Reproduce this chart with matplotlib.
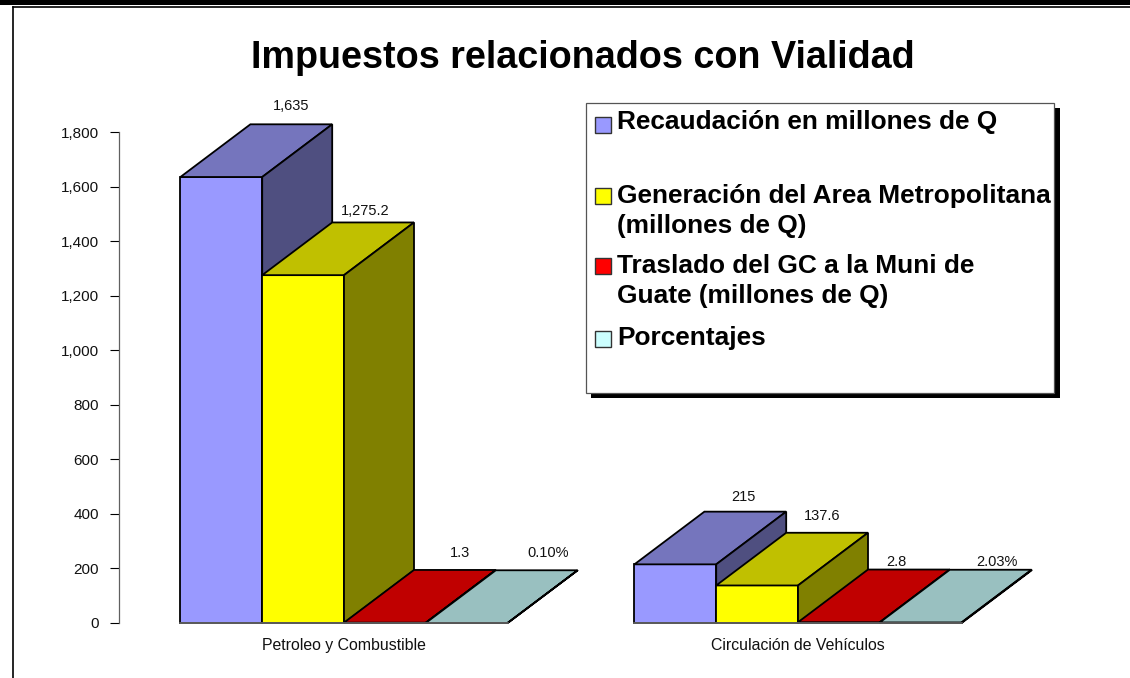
import matplotlib
matplotlib.use('Agg')
import matplotlib.pyplot as plt
from matplotlib.patches import Polygon, Rectangle

plt.rcParams['font.family'] = ['Liberation Sans', 'DejaVu Sans']

categories = ['Petroleo y Combustible', 'Circulación de Vehículos']
series_names = ['Recaudación en millones de Q',
                'Generación del Area Metropolitana\n(millones de Q)',
                'Traslado del GC a la Muni de\nGuate (millones de Q)',
                'Porcentajes']
recaudacion = [1635, 215]
generacion = [1275.2, 137.6]
traslado = [1.3, 2.8]
porcentajes = [0.10, 2.03]
value_labels = [['1,635', '215'], ['1,275.2', '137.6'], ['1.3', '2.8'], ['0.10%', '2.03%']]
y_ticks = [0, 200, 400, 600, 800, 1000, 1200, 1400, 1600, 1800]

front_colors = ['#9999FF', '#FFFF00', '#FF0000', '#CCFFFF']
top_colors = ['#7575BD', '#C0C000', '#C00000', '#99C0C0']
side_colors = ['#4F4F80', '#808000', '#800000', '#668080']

W, H = 1130, 678
fig = plt.figure(figsize=(W / 100, H / 100), dpi=100)

# overlay in pixel coords for the frame and the legend box
bg = fig.add_axes([0, 0, 1, 1])
bg.set_xlim(0, W)
bg.set_ylim(H, 0)
bg.axis('off')
bg.add_patch(Rectangle((0, 0), W, 4.5, fc='black', ec='none'))
bg.plot([12.5, W], [6.8, 6.8], color='black', lw=1.2)
bg.plot([12.5, 12.5], [6.8, H], color='black', lw=1.2)

ax_left, ax_right, ax_top, ax_bottom = 119, 1060, 132, 623
ax = fig.add_axes([ax_left / W, 1 - ax_bottom / H, (ax_right - ax_left) / W, (ax_bottom - ax_top) / H])
ax.patch.set_alpha(0)

# px per category step is 454, px per y unit is 491/1800
px_x = 454
px_y = 491 / 1800
ax.set_xlim((ax_left - 344) / px_x, (ax_right - 344) / px_x)
ax.set_ylim(0, 1800)
bar_w = 81.8 / px_x
depth_x = 70 / px_x
depth_y = 52.7 / px_y

for s in ['top', 'right', 'bottom']:
    ax.spines[s].set_visible(False)
ax.spines['left'].set_color('#606060')
ax.spines['left'].set_linewidth(0.9)
ax.set_yticks(y_ticks)
ax.set_yticklabels([f'{v:,}' for v in y_ticks], fontsize=11, color='#111111')
ax.tick_params(axis='y', length=6.5, width=0.8, pad=8, color='black')
ax.set_xticks(range(len(categories)))
ax.set_xticklabels(categories, fontsize=11.4, color='#111111')
ax.tick_params(axis='x', length=0, pad=11)

all_series = [recaudacion, generacion, traslado, porcentajes]
# nudges for value labels, px right and px above the back top edge
label_dx = [[0, -2], [-8, -5], [5, -13], [11, 6]]
label_dy = [[18, 15], [11, 17], [17, 8], [17, 8]]

for g in range(len(categories)):
    x0 = g - 2 * bar_w
    for i, vals in enumerate(all_series):
        v = vals[g]
        x = x0 + i * bar_w
        x1 = x + bar_w
        kw = dict(ec='black', lw=1.3, joinstyle='miter', clip_on=False)
        ax.add_patch(Polygon([(x, 0), (x1, 0), (x1, v), (x, v)], fc=front_colors[i], **kw))
        ax.add_patch(Polygon([(x, v), (x1, v), (x1 + depth_x, v + depth_y), (x + depth_x, v + depth_y)],
                             fc=top_colors[i], **kw))
        ax.add_patch(Polygon([(x1, 0), (x1 + depth_x, depth_y), (x1 + depth_x, v + depth_y), (x1, v)],
                             fc=side_colors[i], **kw))
        ax.annotate(value_labels[i][g], (x + depth_x + bar_w / 2, v + depth_y),
                    xytext=(label_dx[i][g] * 0.72, label_dy[i][g] * 0.72), textcoords='offset points',
                    ha='center', va='center', fontsize=10.5, color='#111111', annotation_clip=False)
    ax.plot([x0, x0 + 4 * bar_w], [0, 0], color='#707070', lw=1.1, clip_on=False, zorder=5)

fig.text(582.5 / W, 1 - 58 / H, 'Impuestos relacionados con Vialidad', ha='center', va='center',
         fontsize=27.2, fontweight='bold', color='black')

# legend
top = fig.add_axes([0, 0, 1, 1])
top.set_xlim(0, W)
top.set_ylim(H, 0)
top.axis('off')
top.add_patch(Rectangle((591, 108), 469, 290, fc='black', ec='none'))
top.add_patch(Rectangle((585.7, 102.7), 468.3, 290, fc='white', ec='#555555', lw=0.9))
swatch_y = [117, 188, 258, 331]
first_line_y = [122, 196, 266, 338]
for name, sy, ty, c in zip(series_names, swatch_y, first_line_y, front_colors):
    top.add_patch(Rectangle((595, sy), 16, 15.5, fc=c, ec='#333333', lw=1.0))
    for k, line in enumerate(name.split('\n')):
        top.text(617, ty + 30 * k, line, ha='left', va='center', fontsize=18.9, fontweight='bold', color='black')

fig.savefig('out.png', dpi=100)
